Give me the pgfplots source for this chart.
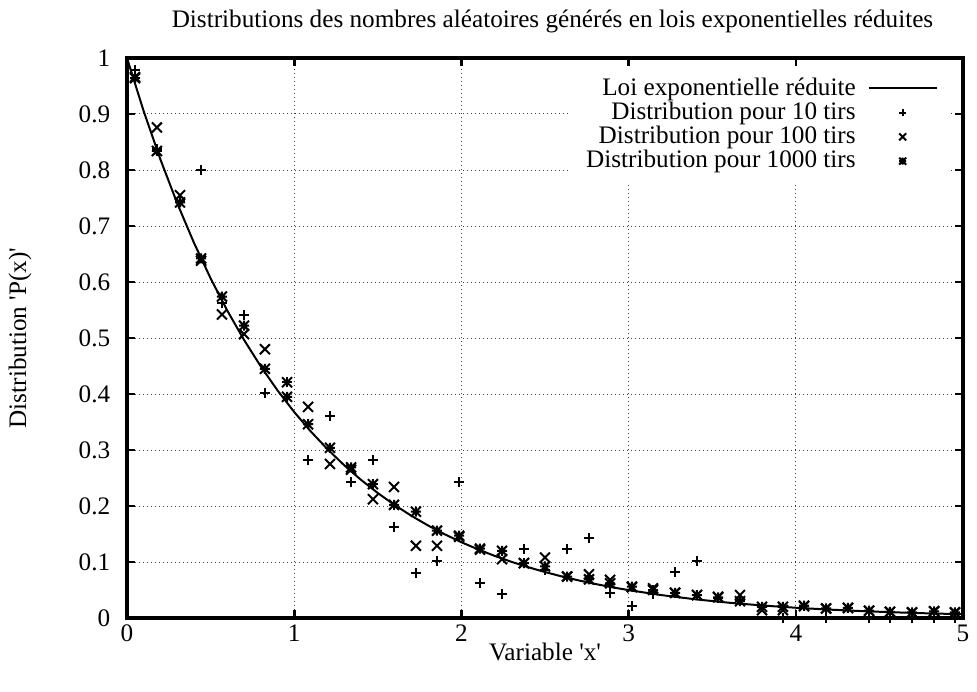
\documentclass[border=0pt]{standalone}
\usepackage{fontspec}
\setmainfont{Liberation Serif}[Ligatures=TeXOff]
\usepackage{pgfplots}
\pgfplotsset{compat=1.18}

\pgfdeclareplotmark{gpplus}{%
  \pgfpathmoveto{\pgfqpoint{-\pgfplotmarksize}{0pt}}%
  \pgfpathlineto{\pgfqpoint{\pgfplotmarksize}{0pt}}%
  \pgfpathmoveto{\pgfqpoint{0pt}{-\pgfplotmarksize}}%
  \pgfpathlineto{\pgfqpoint{0pt}{\pgfplotmarksize}}%
  \pgfusepathqstroke}
\pgfdeclareplotmark{gpx}{%
  \pgfpathmoveto{\pgfqpoint{-\pgfplotmarksize}{-\pgfplotmarksize}}%
  \pgfpathlineto{\pgfqpoint{\pgfplotmarksize}{\pgfplotmarksize}}%
  \pgfpathmoveto{\pgfqpoint{-\pgfplotmarksize}{\pgfplotmarksize}}%
  \pgfpathlineto{\pgfqpoint{\pgfplotmarksize}{-\pgfplotmarksize}}%
  \pgfusepathqstroke}
\pgfdeclareplotmark{gpstar}{%
  \pgfpathmoveto{\pgfqpoint{-\pgfplotmarksize}{0pt}}%
  \pgfpathlineto{\pgfqpoint{\pgfplotmarksize}{0pt}}%
  \pgfpathmoveto{\pgfqpoint{0pt}{-\pgfplotmarksize}}%
  \pgfpathlineto{\pgfqpoint{0pt}{\pgfplotmarksize}}%
  \pgfpathmoveto{\pgfqpoint{-\pgfplotmarksize}{-\pgfplotmarksize}}%
  \pgfpathlineto{\pgfqpoint{\pgfplotmarksize}{\pgfplotmarksize}}%
  \pgfpathmoveto{\pgfqpoint{-\pgfplotmarksize}{\pgfplotmarksize}}%
  \pgfpathlineto{\pgfqpoint{\pgfplotmarksize}{-\pgfplotmarksize}}%
  \pgfusepathqstroke}

\begin{document}
\fontsize{12.6}{15}\selectfont
\begin{tikzpicture}
\path[use as bounding box] (-63.5pt,-36.5pt) rectangle (425pt,309pt);
\begin{axis}[
  at={(0,0)}, anchor=south west,
  width=418pt, height=280pt, scale only axis,
  clip=false,
  xmin=0, xmax=5, ymin=0, ymax=1,
  xtick={0,1,2,3,4,5},
  ytick={0,0.1,0.2,0.3,0.4,0.5,0.6,0.7,0.8,0.9,1},
  yticklabels={0,0.1,0.2,0.3,0.4,0.5,0.6,0.7,0.8,0.9,1},
  xticklabels={0,1,2,3,4,5},
  tick align=inside, tick pos=both,
  major tick length=4pt,
  major tick style={black, line width=1.3pt},
  major grid style={black!75, line width=0.5pt, dash pattern=on 0.5pt off 1.5pt},
  grid=major,
  yticklabel shift=4pt,
  xticklabel shift=-1pt,
  title={Distributions des nombres aléatoires générés en lois exponentielles réduites},
  title style={at={(axis description cs:0.5,1)}, anchor=center, yshift=12.5pt, xshift=3.75pt},
  xlabel={Variable 'x'},
  xlabel style={at={(axis description cs:0.5,0)}, anchor=center, yshift=-17pt},
  ylabel={Distribution 'P(x)'},
  ylabel style={at={(axis description cs:-0.128,0.5)}, anchor=center, rotate=0},
  legend plot pos=right,
  legend cell align=right,
  legend image code/.code={\draw[mark repeat=2,mark phase=2,mark options={scale=0.7},#1] plot coordinates {(0pt,0pt) (17pt,0pt) (34pt,0pt)};},
  legend style={at={(0.9845,0.987)}, anchor=north east, draw=none, fill=white,
    inner xsep=6pt, inner ysep=4pt, column sep=4pt, row sep=-2.5pt},
]
\addplot[black, line width=1pt, no marks] coordinates {
(0,1) (0.1,0.904837) (0.2,0.818731) (0.3,0.740818) (0.4,0.670320)
(0.5,0.606531) (0.6,0.548812) (0.7,0.496585) (0.8,0.449329) (0.9,0.406570)
(1.0,0.367879) (1.1,0.332871) (1.2,0.301194) (1.3,0.272532) (1.4,0.246597)
(1.5,0.223130) (1.6,0.201897) (1.7,0.182684) (1.8,0.165299) (1.9,0.149569)
(2.0,0.135335) (2.1,0.122456) (2.2,0.110803) (2.3,0.100259) (2.4,0.090718)
(2.5,0.082085) (2.6,0.074274) (2.7,0.067206) (2.8,0.060810) (2.9,0.055023)
(3.0,0.049787) (3.2,0.040762) (3.4,0.033373) (3.6,0.027324) (3.8,0.022371)
(4.0,0.018316) (4.2,0.014996) (4.4,0.012277) (4.6,0.010052) (4.8,0.008230)
(5.0,0.006738)};
\addlegendentry{Loi exponentielle réduite}

\addplot[black, only marks, mark=gpplus, mark size=2.5pt, line width=1pt] coordinates {
(0.048,0.978) (0.179,0.838) (0.317,0.745) (0.443,0.800) (0.568,0.562)
(0.700,0.541) (0.825,0.401) (0.957,0.421) (1.083,0.282) (1.214,0.361)
(1.340,0.242) (1.471,0.282) (1.597,0.163) (1.728,0.081) (1.854,0.101)
(1.986,0.242) (2.111,0.063) (2.243,0.043) (2.374,0.123) (2.500,0.086)
(2.632,0.123) (2.763,0.142) (2.889,0.044) (3.020,0.021) (3.146,0.043)
(3.278,0.083) (3.409,0.102) (3.535,0.036) (3.666,0.030) (3.798,0.020)
(3.923,0) (4.049,0.021) (4.181,0) (4.312,0.018) (4.438,0)
(4.563,0) (4.695,0) (4.827,0) (4.952,0)};
\addlegendentry{Distribution pour 10 tirs}

\addplot[black, only marks, mark=gpx, mark size=2.5pt, line width=1pt] coordinates {
(0.048,0.966) (0.179,0.876) (0.317,0.755) (0.443,0.638) (0.568,0.542)
(0.700,0.507) (0.825,0.480) (0.957,0.421) (1.083,0.377) (1.214,0.275)
(1.340,0.265) (1.471,0.212) (1.597,0.234) (1.728,0.129) (1.854,0.129)
(1.986,0.145) (2.111,0.122) (2.243,0.105) (2.374,0.098) (2.500,0.108)
(2.632,0.074) (2.763,0.078) (2.889,0.068) (3.020,0.055) (3.146,0.053)
(3.278,0.045) (3.409,0.041) (3.535,0.038) (3.666,0.041) (3.798,0.014)
(3.923,0.014) (4.049,0.021) (4.181,0.017) (4.312,0.018) (4.438,0.013)
(4.563,0.011) (4.695,0.010) (4.827,0.012) (4.952,0.010)};
\addlegendentry{Distribution pour 100 tirs}

\addplot[black, only marks, mark=gpstar, mark size=2.5pt, line width=1pt] coordinates {
(0.048,0.964) (0.179,0.834) (0.317,0.742) (0.443,0.642) (0.568,0.574)
(0.700,0.522) (0.825,0.445) (0.957,0.395) (1.083,0.346) (1.214,0.304)
(1.340,0.269) (1.471,0.239) (1.597,0.202) (1.728,0.190) (1.854,0.156)
(1.986,0.147) (2.111,0.124) (2.243,0.120) (2.374,0.098) (2.500,0.092)
(2.632,0.074) (2.763,0.069) (2.889,0.062) (3.020,0.056) (3.146,0.050)
(3.278,0.045) (3.409,0.041) (3.535,0.037) (3.666,0.030) (3.798,0.020)
(3.923,0.020) (4.049,0.022) (4.181,0.017) (4.312,0.018) (4.438,0.013)
(4.563,0.011) (4.695,0.010) (4.827,0.012) (4.952,0.010)};
\addlegendentry{Distribution pour 1000 tirs}

\draw[black, line width=2pt] (rel axis cs:0,0) rectangle (rel axis cs:1,1);
\end{axis}
\end{tikzpicture}
\end{document}
